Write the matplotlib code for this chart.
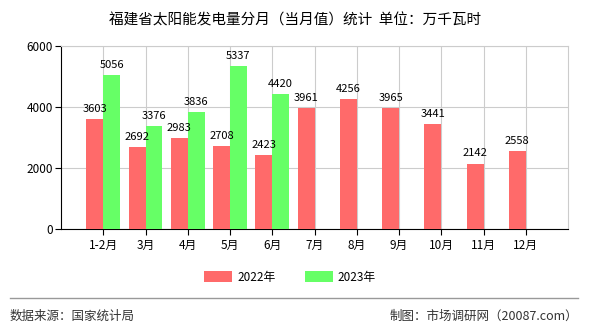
import matplotlib.pyplot as plt
import numpy as np

plt.rcParams['font.family'] = ['Noto Sans CJK SC', 'DejaVu Sans']

months = ['1-2月', '3月', '4月', '5月', '6月', '7月', '8月', '9月', '10月', '11月', '12月']
v2022 = [3603, 2692, 2983, 2708, 2423, 3961, 4256, 3965, 3441, 2142, 2558]
v2023 = [5056, 3376, 3836, 5337, 4420]

fig = plt.figure(figsize=(5.9, 3.3), dpi=100)
ax = fig.add_axes([61/590, 1-229/330, (568-61)/590, (229-46)/330])

x = np.arange(1, len(months)+1)
w = 0.4
red = '#ff6a6a'
green = '#66ff66'
b1 = ax.bar(x - w/2, v2022, w, color=red, label='2022年', zorder=3)
x2 = x[:len(v2023)]
b2 = ax.bar(x2 + w/2, v2023, w, color=green, label='2023年', zorder=3)

for xi, v in zip(x - w/2, v2022):
    ax.text(xi, v + 170, str(v), ha='center', va='bottom', fontsize=8, zorder=4)
for xi, v in zip(x2 + w/2, v2023):
    ax.text(xi, v + 170, str(v), ha='center', va='bottom', fontsize=8, zorder=4)

ax.set_xlim(0, 12)
ax.set_ylim(0, 6000)
ax.set_yticks([0, 2000, 4000, 6000])
ax.set_xticks(x)
ax.set_xticklabels(months, fontsize=8.5)
ax.tick_params(axis='y', labelsize=8.5, length=4, pad=2)
ax.tick_params(axis='x', length=4, pad=3)
ax.grid(True, color='#cccccc', linewidth=0.8, zorder=0)
for s in ['top', 'right']:
    ax.spines[s].set_color('#cccccc')
ax.spines['left'].set_color('black')
ax.spines['bottom'].set_color('black')

fig.text(0.5, 1-20/330, '福建省太阳能发电量分月（当月值）统计  单位：万千瓦时',
         ha='center', va='center', fontsize=10.5)

fig.legend(handles=[b1, b2], loc='center', bbox_to_anchor=(290/590, 1-277/330),
           ncol=2, frameon=False, fontsize=8.5, handlelength=2.4, handleheight=1.0,
           columnspacing=2.5, handletextpad=0.4)

fig.add_artist(plt.Line2D([10/590, 578/590], [1-298/330, 1-298/330],
                          color='#999999', linewidth=1))
fig.text(10/590, 1-316/330, '数据来源：国家统计局', ha='left', va='center',
         fontsize=9, color='#333333')
fig.text(578/590, 1-316/330, '制图：市场调研网（20087.com）', ha='right', va='center',
         fontsize=9, color='#333333')

fig.savefig('out.png', dpi=100)
